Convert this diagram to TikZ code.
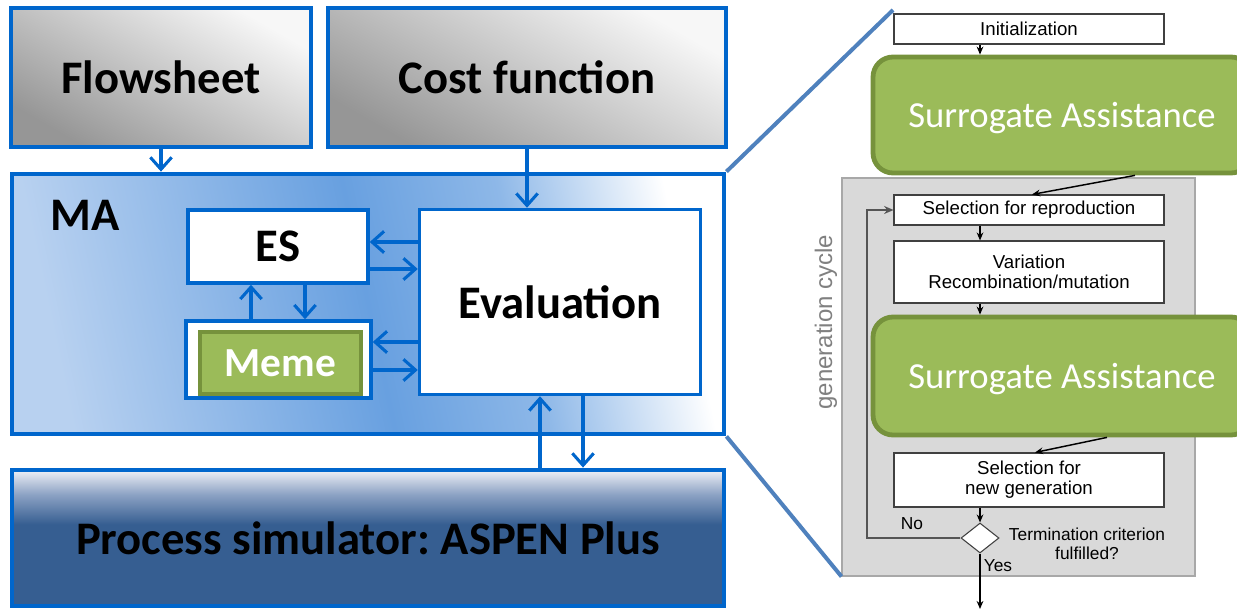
\documentclass[tikz,border=0pt]{standalone}
\usepackage{fontspec}
\setmainfont{Carlito}
\newfontfamily\arialfont{Liberation Sans}
\usetikzlibrary{arrows.meta,shapes.geometric}

\definecolor{mablue}{RGB}{0,102,204}
\definecolor{malight}{RGB}{184,209,240}
\definecolor{mamid}{RGB}{104,160,224}
\definecolor{proclight}{RGB}{238,240,246}
\definecolor{procmid}{RGB}{140,162,196}
\definecolor{procdark}{RGB}{54,94,145}
\definecolor{fsdark}{RGB}{150,150,150}
\definecolor{fslight}{RGB}{247,247,247}
\definecolor{sagreen}{RGB}{155,187,89}
\definecolor{saedge}{RGB}{118,146,60}
\definecolor{zoomline}{RGB}{79,129,189}
\definecolor{cyclegray}{RGB}{217,217,217}
\definecolor{cycleedge}{RGB}{168,168,168}
\definecolor{loopgray}{RGB}{85,85,85}

\pgfdeclarehorizontalshading{mashade}{100bp}{color(0bp)=(malight); color(25bp)=(malight); color(50bp)=(mamid); color(62bp)=(mamid!75!white); color(75bp)=(white); color(100bp)=(white)}
\pgfdeclareverticalshading{procshade}{100bp}{color(0bp)=(procdark); color(25bp)=(procdark); color(55bp)=(procdark); color(66bp)=(procmid); color(75bp)=(proclight); color(100bp)=(proclight)}

\tikzset{
  inbox/.style 2 args={minimum width=#1*0.75pt, minimum height=#2*0.75pt, inner sep=0pt},
  bigbox/.style={draw=mablue, line width=3.6pt, font=\bfseries\fontsize{35}{42}\selectfont\frenchspacing},
  subbox/.style={draw=mablue, line width=2.6pt, fill=white, font=\bfseries\fontsize{35}{42}\selectfont},
  memestyle/.style={draw=saedge, line width=2.6pt, fill=sagreen, text=white, font=\bfseries\fontsize{31}{37}\selectfont},
  barrow/.style={draw=mablue, line width=2.3pt, -{Straight Barb[length=9pt,width=16pt]}},
  sabox/.style={draw=saedge, line width=3.6pt, fill=sagreen, rounded corners=15pt, text=white, text depth=0pt, font=\fontsize{27.5}{33}\selectfont},
  stepbox/.style={draw=black!75, line width=0.8pt, fill=white, align=center, font=\arialfont\fontsize{14}{15}\selectfont},
  smalltext/.style={align=center, font=\arialfont\fontsize{13}{14}\selectfont},
  karrow/.style={draw=black, line width=1.1pt, -{Stealth[length=6pt,width=5pt]}},
  looparrow/.style={draw=loopgray, line width=1.6pt, -{Stealth[length=7pt,width=6pt]}},
}

\begin{document}
\begin{tikzpicture}[x=0.75pt,y=-0.75pt]
  \useasboundingbox (0,0) rectangle (1237,609);
  \clip (0,0) rectangle (1237,609);

  % framework on the left
  \node[bigbox, inbox={300}{139}, top color=fslight, bottom color=fsdark, shading angle=-30] (flow) at (161,77.5) {Flowsheet};
  \node[bigbox, inbox={398}{139}, top color=fslight, bottom color=fsdark, shading angle=-30] (cost) at (527,77.5) {Cost function};
  \node[bigbox, inbox={712}{260}, shade, shading=mashade, shading angle=12] (ma) at (368,304) {};
  \node[font=\bfseries\fontsize{35}{42}\selectfont] (malabel) at (85,215) {MA};
  \node[subbox, inbox={180}{73}] (es) at (278,246.5) {ES};
  \node[subbox, inbox={281}{185}] (eval) at (560,302) {Evaluation};
  \node[subbox, inbox={185}{77}] (memebox) at (278.5,359.5) {};
  \node[memestyle, inbox={161}{62}] (meme) at (280.5,363) {Meme};
  \node[bigbox, inbox={712}{136}, shade, shading=procshade] (proc) at (368,538) {Process simulator: ASPEN Plus};

  \draw[barrow] (flow.south) -- (flow.south |- ma.north);
  \draw[barrow] (cost.south -| 527,0) -- (eval.north -| 527,0);
  \draw[barrow] (eval.west |- 0,242) -- (es.east |- 0,242);
  \draw[barrow] (es.east |- 0,269) -- (eval.west |- 0,269);
  \draw[barrow] (memebox.north -| 251,0) -- (es.south -| 251,0);
  \draw[barrow] (es.south -| 305,0) -- (memebox.north -| 305,0);
  \draw[barrow] (eval.west |- 0,342) -- (memebox.east |- 0,342);
  \draw[barrow] (memebox.east |- 0,370) -- (eval.west |- 0,370);
  \draw[barrow] (proc.north -| 540,0) -- (eval.south -| 540,0);
  \draw[barrow] (eval.south -| 583,0) -- (proc.north -| 583,0);

  % flow chart on the right
  \node[draw=cycleedge, line width=0.8pt, fill=cyclegray, inbox={353}{398}] (genbox) at (1018.5,377) {};
  \node[rotate=90, text=black!50, font=\arialfont\fontsize{18}{20}\selectfont] (genlabel) at (826,322) {generation cycle};
  \node[stepbox, inbox={270}{30}] (init) at (1029,29) {Initialization};
  \node[sabox, inbox={378}{116}] (sa1) at (1062,115) {Surrogate Assistance};
  \node[stepbox, inbox={270}{30}] (selrep) at (1029,210) {Selection for reproduction};
  \node[stepbox, inbox={270}{62}] (var) at (1029,272) {Variation\\Recombination/mutation};
  \node[sabox, inbox={378}{118}] (sa2) at (1062,376) {Surrogate Assistance};
  \node[stepbox, inbox={270}{54}] (selnew) at (1029,480) {Selection for\\new generation};
  \node[diamond, draw=black!75, line width=0.8pt, fill=white, inbox={38}{30}] (term) at (980,538) {};
  \node[smalltext] (termlabel) at (1087,544) {Termination criterion\\fulfilled?};
  \node[smalltext] (nolabel) at (912,524) {No};
  \node[smalltext] (yeslabel) at (998,566) {Yes};
  \coordinate (done) at (980,609);
  \coordinate (zoomtop) at (893,10);

  \draw[karrow] (init.south -| 980,0) -- (sa1.north -| 980,0);
  \draw[karrow] (sa1.south -| 1135,0) -- (selrep.north -| 1032,0);
  \draw[karrow] (selrep.south -| 980,0) -- (var.north -| 980,0);
  \draw[karrow] (var.south -| 980,0) -- (sa2.north -| 980,0);
  \draw[karrow] (sa2.south -| 1107,0) -- (selnew.north -| 1035,0);
  \draw[karrow] (selnew.south -| term) -- (term.north);
  \draw[karrow] (term.south) -- (done);
  \draw[looparrow] (term.west) -- (term.west -| 867,0) |- (selrep.west);

  % zoom lines
  \draw[zoomline, line width=3pt] (ma.north east) -- (zoomtop);
  \draw[zoomline, line width=3pt] (ma.south east) -- (genbox.south west);
\end{tikzpicture}
\end{document}
